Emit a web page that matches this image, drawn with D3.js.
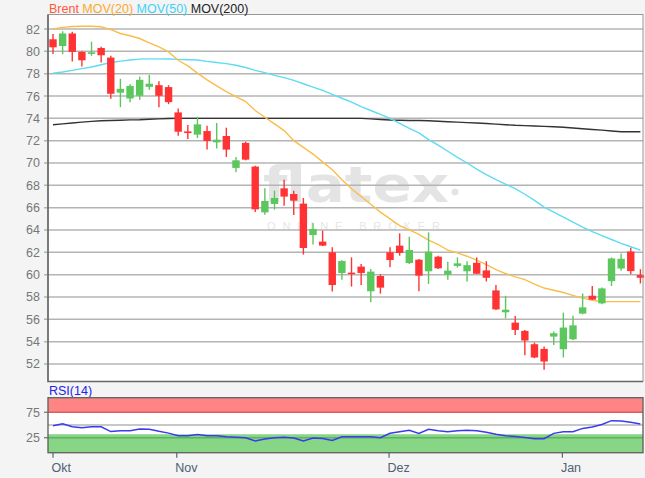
<!DOCTYPE html>
<html><head><meta charset="utf-8">
<script src="https://cdn.jsdelivr.net/npm/d3@7"></script>
<style>html,body{margin:0;padding:0;background:#f4f4f4;}svg{display:block;font-family:Arial,"Liberation Sans",sans-serif;}</style>
</head><body>
<svg id="c" width="645" height="478"></svg>
<script>
// ---- data (index = trading day, Oct .. Jan) ----
const opens  = [81.08,80.48,81.6,79.95,79.77,80.3,79.44,76.3,75.78,76.02,76.82,76.97,76.8,74.53,72.83,72.54,72.86,71.85,72.42,69.56,71.8,69.68,65.58,66.33,67.73,67.22,66.36,63.55,62.96,62.0,60.15,60.18,60.72,58.51,59.88,62.0,62.6,61.04,61.34,60.3,61.61,60.0,60.78,60.3,61.06,60.38,58.59,56.63,55.7,54.96,53.77,53.35,54.45,53.32,54.21,56.51,58.11,57.43,59.42,60.55,62.07,59.96];
const highs  = [81.55,81.8,81.76,80.0,80.86,80.42,79.6,77.54,77.05,77.74,77.9,77.33,76.97,74.89,73.4,74.11,73.34,73.58,73.16,70.54,71.91,69.75,67.73,67.52,68.5,67.52,66.87,64.63,63.94,62.45,61.3,61.55,60.96,60.51,60.03,62.45,63.7,63.4,61.4,63.79,61.7,61.16,61.55,61.19,61.54,61.21,59.07,58.11,56.3,55.05,53.92,53.56,54.9,56.6,56.33,58.32,58.98,58.86,61.54,61.89,62.4,60.49];
const lows   = [79.77,79.74,79.1,78.64,79.6,79.0,75.75,75.0,75.45,75.66,76.55,75.0,75.27,72.45,72.15,72.24,71.2,71.29,70.54,69.17,70.24,65.6,65.37,65.82,66.18,65.34,61.8,62.69,62.55,58.48,59.55,58.93,59.07,57.52,58.3,60.66,61.7,60.96,58.51,59.16,60.5,59.55,60.63,59.37,60.05,59.39,56.83,56.09,54.6,52.79,52.52,51.48,53.71,52.58,54.15,56.45,57.73,57.34,58.98,60.35,60.05,59.21];
const closes = [80.36,81.6,79.95,79.2,79.92,79.65,76.2,76.64,76.9,77.45,77.1,76.02,75.45,72.8,72.68,73.46,71.97,72.09,71.2,70.24,70.3,65.85,66.6,66.87,66.99,66.63,62.39,64.09,62.6,59.07,61.22,60.12,60.15,60.27,58.84,61.31,61.94,62.21,59.91,62.06,60.57,60.36,61.01,60.85,60.08,59.72,56.89,56.86,55.05,54.1,52.58,52.22,54.75,55.26,55.46,57.07,57.76,58.77,61.45,61.42,60.32,59.72];
const mov20  = [82.0,82.15,82.22,82.25,82.25,82.2,81.95,81.6,81.4,81.15,80.75,80.4,79.95,79.2,78.7,78.05,77.45,76.9,76.4,75.95,75.5,74.7,74.1,73.5,72.9,72.0,71.4,70.8,70.1,69.4,68.5,67.7,67.0,66.3,65.6,65.0,64.4,64.0,63.6,63.1,62.7,62.2,61.95,61.65,61.3,60.9,60.45,60.1,59.8,59.55,59.15,58.8,58.6,58.4,58.15,57.9,57.7,57.6,57.58,57.58,57.58,57.58];
const mov50  = [78.04,78.15,78.3,78.45,78.6,78.8,79.0,79.12,79.22,79.3,79.33,79.33,79.32,79.28,79.25,79.22,79.1,79.0,78.9,78.75,78.55,78.3,78.1,77.85,77.65,77.4,77.1,76.8,76.5,76.15,75.8,75.45,75.05,74.7,74.35,74.0,73.55,73.1,72.7,72.1,71.6,71.05,70.5,70.0,69.45,68.95,68.5,68.1,67.7,67.2,66.65,66.05,65.6,65.15,64.7,64.25,63.85,63.5,63.15,62.8,62.5,62.2];
const mov200 = [73.43,73.5,73.58,73.66,73.73,73.78,73.8,73.83,73.86,73.88,73.92,73.95,73.98,74.0,74.0,74.0,74.0,74.0,74.0,74.0,74.0,74.0,74.0,74.0,74.0,74.0,74.0,74.0,74.0,74.0,74.0,74.0,74.0,73.95,73.9,73.85,73.83,73.8,73.8,73.78,73.74,73.7,73.66,73.62,73.58,73.54,73.48,73.43,73.38,73.35,73.32,73.28,73.25,73.2,73.14,73.07,73.0,72.94,72.87,72.8,72.8,72.8];
const rsi14  = [48.6,52.4,46.5,44.8,46.7,46.5,37,38.8,38.8,42,41.5,37.5,34,29,29,31.5,29,29,27,26,25,18.5,22.5,25,25.8,24.5,18.5,24.5,23.5,19.5,27,27,27,27,25,33.7,36.8,39.5,33.5,41.5,38.8,36.8,38.8,39.6,38.8,35.8,32,29,27.2,25.3,23,23,33.5,36.8,36.8,43.3,46,51,58.5,57.9,55.5,52];
const priceTicks = [52,54,56,58,60,62,64,66,68,70,72,74,76,78,80,82];
const rsiTicks = [75,25];
const monthLabels = ["Okt","Nov","Dez","Jan"];
const monthIdx = [0,12.85,34.9,52.9];
const legendNames = ["Brent","MOV(20)","MOV(50)","MOV(200)"];

// ---- layout ----
const svg = d3.select("#c");
const L = 48, R = 643, T = 14.5, B = 381.5;
const RT = 397.7, RB = 452.7;
const x = d3.scaleLinear().domain([-0.52, 61.27]).range([L, R]);
const y = d3.scaleLinear().domain([50.43, 83.3]).range([B, T]);
const yr = d3.scaleLinear().domain([-4.5, 103.7]).range([RB, RT]);
const idx = d3.range(opens.length);

svg.append("rect").attr("width",645).attr("height",478).attr("fill","#f4f4f4");
svg.append("rect").attr("x",L).attr("y",T).attr("width",R-L).attr("height",B-T).attr("fill","#fff");

// watermark
svg.append("text").attr("x",263).attr("y",202).attr("font-size",50).attr("font-weight","bold")
  .attr("font-family","'DejaVu Sans',Verdana,sans-serif")
  .attr("fill","#e4e4e4").attr("textLength",186).attr("lengthAdjust","spacingAndGlyphs").text("flatex");
svg.append("circle").attr("cx",455).attr("cy",192).attr("r",3.5).attr("fill","#e4e4e4");
svg.append("text").attr("x",267).attr("y",230).attr("font-size",11)
  .attr("fill","#e6e6e6").attr("textLength",173).attr("lengthAdjust","spacing").text("ONLINE BROKER");

// grid
svg.append("g").selectAll("line").data(priceTicks).join("line")
  .attr("x1",L-4).attr("x2",R).attr("y1",d=>y(d)).attr("y2",d=>y(d))
  .attr("stroke","#b4b4b4").attr("stroke-width",1.5);
svg.append("g").selectAll("text").data(priceTicks).join("text")
  .attr("x",40).attr("y",d=>y(d)+4.5).attr("text-anchor","end")
  .attr("font-size",12.5).attr("fill","#777").text(d=>d);

// moving averages
const line = arr => d3.line().x((d,i)=>x(i)).y(d=>y(d))(arr);
svg.append("path").attr("d",line(mov200)).attr("fill","none").attr("stroke","#333").attr("stroke-width",1.4);
svg.append("path").attr("d",line(mov50)).attr("fill","none").attr("stroke","#5ddcf2").attr("stroke-width",1.4);
svg.append("path").attr("d",line(mov20)).attr("fill","none").attr("stroke","#fbbd4a").attr("stroke-width",1.4);

// candles
const col = i => closes[i] >= opens[i] ? "#5cc75c" : "#ff3333";
const cg = svg.append("g");
cg.selectAll("line").data(idx).join("line")
  .attr("x1",i=>x(i)).attr("x2",i=>x(i)).attr("y1",i=>y(highs[i])).attr("y2",i=>y(lows[i]))
  .attr("stroke",col).attr("stroke-width",1.4);
const bw = 7.4;
cg.selectAll("rect").data(idx).join("rect")
  .attr("x",i=>x(i)-bw/2).attr("width",bw)
  .attr("y",i=>y(Math.max(opens[i],closes[i])))
  .attr("height",i=>Math.max(1.5, y(Math.min(opens[i],closes[i]))-y(Math.max(opens[i],closes[i]))))
  .attr("fill",col);

// frame
svg.append("rect").attr("x",L).attr("y",T).attr("width",R-L).attr("height",B-T)
  .attr("fill","none").attr("stroke","#999").attr("stroke-width",1);
svg.append("path").attr("d",`M${L},${T}V${B}H${R}`).attr("fill","none").attr("stroke","#666").attr("stroke-width",1.6);

// legend
const leg = svg.append("text").attr("x",49).attr("y",12.5).attr("font-size",12.5);
const legCols = ["#ff5a3c","#fbaa2a","#3cd2f5","#222"];
legendNames.forEach((n,k)=>leg.append("tspan").attr("fill",legCols[k]).text((k?" ":"")+n));

// RSI panel
svg.append("text").attr("x",49).attr("y",395).attr("font-size",12.5).attr("fill","#2222ee").text("RSI(14)");
svg.append("rect").attr("x",L).attr("y",RT).attr("width",R-L).attr("height",RB-RT).attr("fill","#fff");
svg.append("rect").attr("x",L).attr("y",RT).attr("width",R-L).attr("height",yr(75)-RT).attr("fill","#ff8585");
svg.append("rect").attr("x",L).attr("y",yr(31.8)).attr("width",R-L).attr("height",RB-yr(31.8)).attr("fill","#86d686");
svg.append("line").attr("x1",L).attr("x2",R).attr("y1",yr(75)).attr("y2",yr(75)).attr("stroke","#d86060").attr("stroke-width",1.5);
svg.append("line").attr("x1",L).attr("x2",R).attr("y1",yr(50)).attr("y2",yr(50)).attr("stroke","#b4b4b4").attr("stroke-width",1.5);
svg.append("line").attr("x1",L).attr("x2",R).attr("y1",yr(25)).attr("y2",yr(25)).attr("stroke","#62b062").attr("stroke-width",1.5);
svg.append("g").selectAll("line").data(rsiTicks).join("line")
  .attr("x1",L-4).attr("x2",L).attr("y1",d=>yr(d)).attr("y2",d=>yr(d)).attr("stroke","#888").attr("stroke-width",1.5);
svg.append("g").selectAll("text").data(rsiTicks).join("text")
  .attr("x",40).attr("y",d=>yr(d)+4.5).attr("text-anchor","end").attr("font-size",12.5).attr("fill","#777").text(d=>d);
svg.append("path").attr("d",d3.line().x((d,i)=>x(i)).y(d=>yr(d))(rsi14))
  .attr("fill","none").attr("stroke","#3a3aee").attr("stroke-width",1.5);
svg.append("rect").attr("x",L).attr("y",RT).attr("width",R-L).attr("height",RB-RT)
  .attr("fill","none").attr("stroke","#666").attr("stroke-width",1.4);

// x axis
const xa = svg.append("g");
monthLabels.forEach((m,k)=>{
  const px = x(monthIdx[k]);
  xa.append("line").attr("x1",px).attr("x2",px).attr("y1",RB).attr("y2",RB+5).attr("stroke","#556677").attr("stroke-width",1.2);
  xa.append("text").attr("x",px-1.5).attr("y",472).attr("font-size",12.5).attr("fill","#4f6072").text(m);
});
</script>
</body></html>
